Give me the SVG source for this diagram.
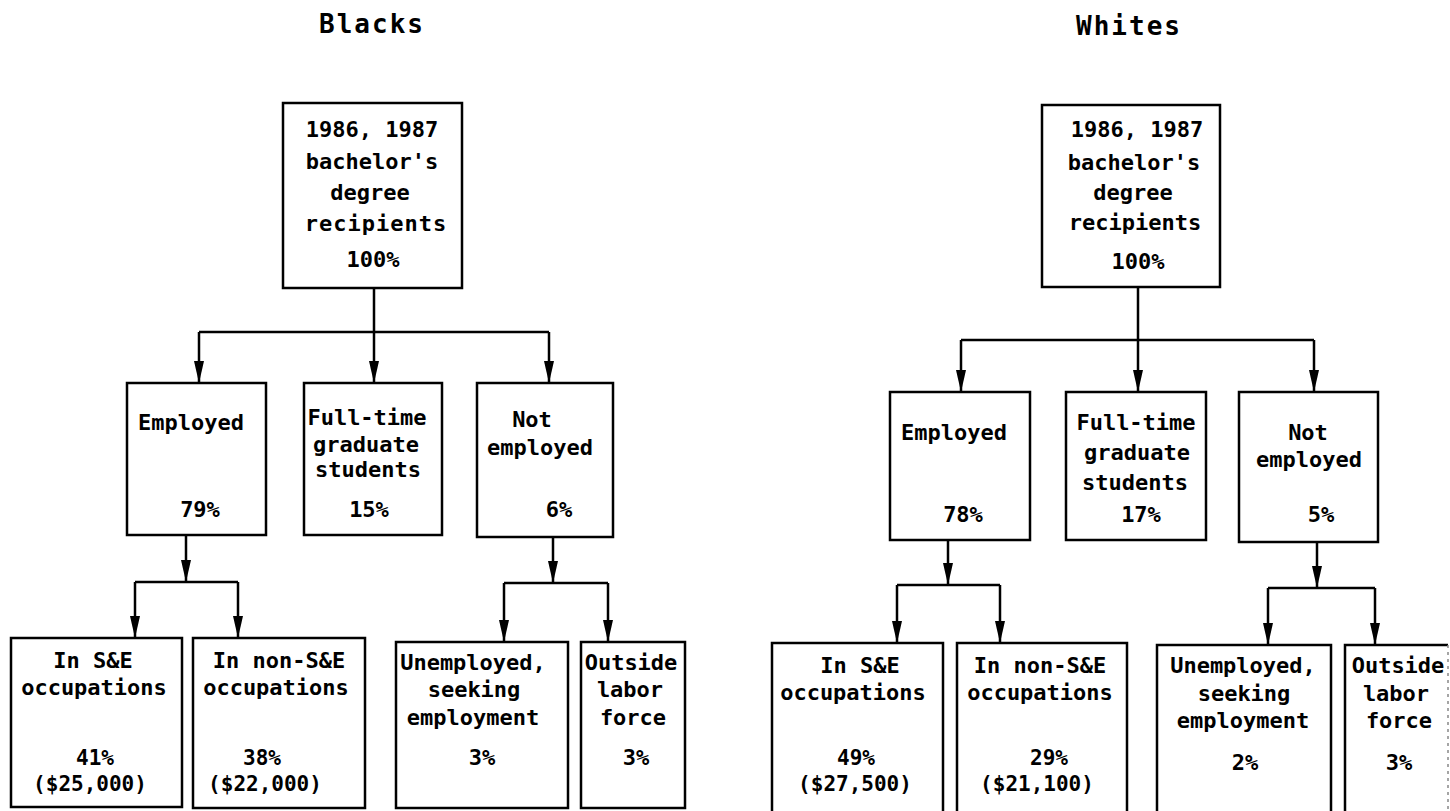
<svg xmlns="http://www.w3.org/2000/svg" width="1450" height="811" viewBox="0 0 1450 811">
<style>
.bg{fill:#fff}
.box{fill:#fff;stroke:#000;stroke-width:2.5}
.t{font-family:"DejaVu Sans Mono","Liberation Mono",monospace;font-size:22px;font-weight:bold;text-anchor:middle;fill:#000}
.s{font-size:21px}
.title{font-family:"DejaVu Sans Mono","Liberation Mono",monospace;font-size:26px;font-weight:bold;text-anchor:middle;fill:#000;letter-spacing:2px}
.c{fill:none;stroke:#000;stroke-width:2.5}
.ca{fill:none;stroke:#000;stroke-width:2.5;marker-end:url(#ah)}
</style>
<defs>
<marker id="ah" viewBox="0 0 22 10" refX="22" refY="5" markerWidth="22" markerHeight="10" markerUnits="userSpaceOnUse" orient="auto">
<path d="M0,0 L22,5 L0,10 z" fill="#000"/>
</marker>
</defs>
<rect class="bg" x="0" y="0" width="1450" height="811"/>

<text class="title" x="372" y="33">Blacks</text>
<text class="title" x="1129" y="35">Whites</text>

<g id="connectors">
<path class="c" d="M374,288 V332 M199,332 H549"/>
<path class="ca" d="M199,332 V383"/>
<path class="ca" d="M374,332 V383"/>
<path class="ca" d="M549,332 V383"/>
<path class="ca" d="M186,535 V582"/>
<path class="c" d="M135,582 H238"/>
<path class="ca" d="M135,582 V638"/>
<path class="ca" d="M238,582 V638"/>
<path class="ca" d="M553,537 V583"/>
<path class="c" d="M504,583 H608"/>
<path class="ca" d="M504,583 V642"/>
<path class="ca" d="M608,583 V642"/>
<path class="c" d="M1138,287 V340 M961,340 H1314"/>
<path class="ca" d="M961,340 V392"/>
<path class="ca" d="M1138,340 V392"/>
<path class="ca" d="M1314,340 V392"/>
<path class="ca" d="M948,540 V585"/>
<path class="c" d="M897,585 H1000"/>
<path class="ca" d="M897,585 V643"/>
<path class="ca" d="M1000,585 V643"/>
<path class="ca" d="M1317,542 V588"/>
<path class="c" d="M1268,588 H1375"/>
<path class="ca" d="M1268,588 V645"/>
<path class="ca" d="M1375,588 V645"/>
</g>

<g id="b-root">
<rect class="box" x="283" y="103" width="179" height="185"/>
<text class="t" x="372" y="137">1986, 1987</text>
<text class="t" x="372" y="169">bachelor's</text>
<text class="t" x="370" y="200">degree</text>
<text class="t" x="376" y="231" letter-spacing="1">recipients</text>
<text class="t" x="373" y="267">100%</text>
</g>
<g id="b-employed">
<rect class="box" x="127" y="383" width="139" height="152"/>
<text class="t" x="191" y="430">Employed</text>
<text class="t" x="200" y="517">79%</text>
</g>
<g id="b-grad">
<rect class="box" x="304" y="383" width="138" height="152"/>
<text class="t" x="367" y="425">Full-time</text>
<text class="t" x="366" y="452">graduate</text>
<text class="t" x="368" y="477">students</text>
<text class="t" x="369" y="517">15%</text>
</g>
<g id="b-notemp">
<rect class="box" x="477" y="383" width="136" height="154"/>
<text class="t" x="532" y="427">Not</text>
<text class="t" x="540" y="455">employed</text>
<text class="t" x="559" y="517">6%</text>
</g>
<g id="b-se">
<rect class="box" x="11" y="638" width="171" height="169"/>
<text class="t" x="93" y="668">In S&amp;E</text>
<text class="t" x="94" y="695">occupations</text>
<text class="t s" x="95" y="765">41%</text>
<text class="t s" x="90" y="791">($25,000)</text>
</g>
<g id="b-nonse">
<rect class="box" x="193" y="638" width="172" height="170"/>
<text class="t" x="279" y="668">In non-S&amp;E</text>
<text class="t" x="276" y="695">occupations</text>
<text class="t s" x="262" y="765">38%</text>
<text class="t s" x="265" y="791">($22,000)</text>
</g>
<g id="b-unemp">
<rect class="box" x="396" y="642" width="172" height="166"/>
<text class="t" x="473" y="670">Unemployed,</text>
<text class="t" x="474" y="697">seeking</text>
<text class="t" x="473" y="725">employment</text>
<text class="t" x="482" y="765">3%</text>
</g>
<g id="b-outside">
<rect class="box" x="581" y="642" width="104" height="166"/>
<text class="t" x="631" y="670">Outside</text>
<text class="t" x="630" y="697">labor</text>
<text class="t" x="633" y="725">force</text>
<text class="t" x="636" y="765">3%</text>
</g>

<g id="w-root">
<rect class="box" x="1042" y="105" width="178" height="182"/>
<text class="t" x="1137" y="137">1986, 1987</text>
<text class="t" x="1134" y="170">bachelor's</text>
<text class="t" x="1133" y="200">degree</text>
<text class="t" x="1135" y="230">recipients</text>
<text class="t" x="1138" y="269">100%</text>
</g>
<g id="w-employed">
<rect class="box" x="890" y="392" width="140" height="148"/>
<text class="t" x="954" y="440">Employed</text>
<text class="t" x="963" y="522">78%</text>
</g>
<g id="w-grad">
<rect class="box" x="1066" y="392" width="140" height="148"/>
<text class="t" x="1136" y="430">Full-time</text>
<text class="t" x="1137" y="460">graduate</text>
<text class="t" x="1135" y="490">students</text>
<text class="t" x="1141" y="522">17%</text>
</g>
<g id="w-notemp">
<rect class="box" x="1239" y="392" width="139" height="150"/>
<text class="t" x="1308" y="440">Not</text>
<text class="t" x="1309" y="467">employed</text>
<text class="t" x="1321" y="522">5%</text>
</g>
<g id="w-se">
<rect class="box" x="772" y="643" width="171" height="175"/>
<text class="t" x="860" y="673">In S&amp;E</text>
<text class="t" x="853" y="700">occupations</text>
<text class="t s" x="856" y="765">49%</text>
<text class="t s" x="855" y="791">($27,500)</text>
</g>
<g id="w-nonse">
<rect class="box" x="957" y="643" width="170" height="175"/>
<text class="t" x="1040" y="673">In non-S&amp;E</text>
<text class="t" x="1040" y="700">occupations</text>
<text class="t s" x="1049" y="765">29%</text>
<text class="t s" x="1037" y="791">($21,100)</text>
</g>
<g id="w-unemp">
<rect class="box" x="1157" y="645" width="174" height="175"/>
<text class="t" x="1243" y="673">Unemployed,</text>
<text class="t" x="1244" y="701">seeking</text>
<text class="t" x="1243" y="728">employment</text>
<text class="t" x="1245" y="770">2%</text>
</g>
<g id="w-outside">
<path class="c" d="M1448,645 H1345 V820"/>
<line x1="1448" y1="645" x2="1448" y2="811" stroke="#888" stroke-width="1.5" stroke-dasharray="3,4"/>
<text class="t" x="1398" y="673">Outside</text>
<text class="t" x="1396" y="701">labor</text>
<text class="t" x="1399" y="728">force</text>
<text class="t" x="1399" y="770">3%</text>
</g>
</svg>
